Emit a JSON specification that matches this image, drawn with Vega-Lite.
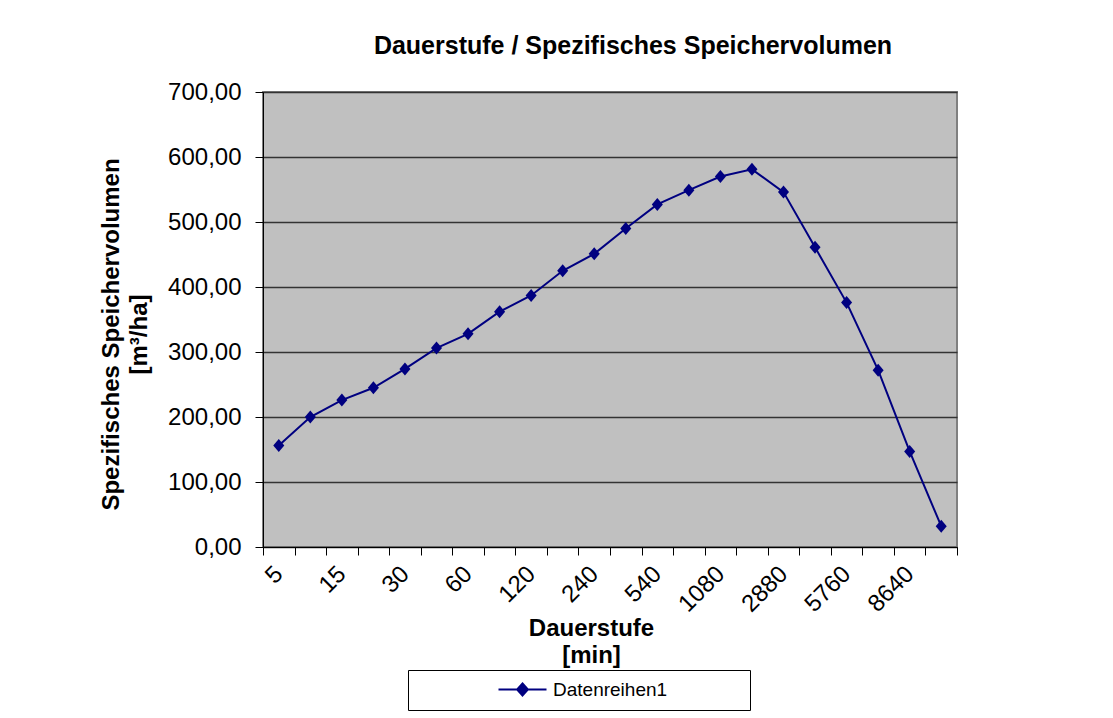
{
  "$schema": "https://vega.github.io/schema/vega-lite/v6.json",
  "width": 694,
  "height": 455,
  "autosize": {"type": "none"},
  "padding": {"left": 263, "top": 92, "right": 156, "bottom": 171},
  "background": "white",
  "config": {
    "font": "Liberation Sans",
    "view": {"fill": "#C0C0C0", "stroke": "#808080", "strokeWidth": 2}
  },
  "title": {
    "text": "Dauerstufe / Spezifisches Speichervolumen",
    "fontSize": 25,
    "fontWeight": "bold",
    "font": "Liberation Sans",
    "color": "black",
    "anchor": "middle",
    "frame": "group",
    "dx": 23,
    "offset": 21
  },
  "data": {
    "values": [
      {"dauer": 5, "volumen": 156, "series": "Datenreihen1"},
      {"dauer": 10, "volumen": 200, "series": "Datenreihen1"},
      {"dauer": 15, "volumen": 226, "series": "Datenreihen1"},
      {"dauer": 20, "volumen": 245, "series": "Datenreihen1"},
      {"dauer": 30, "volumen": 274, "series": "Datenreihen1"},
      {"dauer": 45, "volumen": 306, "series": "Datenreihen1"},
      {"dauer": 60, "volumen": 328, "series": "Datenreihen1"},
      {"dauer": 90, "volumen": 362, "series": "Datenreihen1"},
      {"dauer": 120, "volumen": 387, "series": "Datenreihen1"},
      {"dauer": 180, "volumen": 425, "series": "Datenreihen1"},
      {"dauer": 240, "volumen": 451, "series": "Datenreihen1"},
      {"dauer": 360, "volumen": 490, "series": "Datenreihen1"},
      {"dauer": 540, "volumen": 527, "series": "Datenreihen1"},
      {"dauer": 720, "volumen": 549, "series": "Datenreihen1"},
      {"dauer": 1080, "volumen": 570, "series": "Datenreihen1"},
      {"dauer": 1440, "volumen": 581, "series": "Datenreihen1"},
      {"dauer": 2880, "volumen": 546, "series": "Datenreihen1"},
      {"dauer": 4320, "volumen": 461, "series": "Datenreihen1"},
      {"dauer": 5760, "volumen": 376, "series": "Datenreihen1"},
      {"dauer": 7200, "volumen": 272, "series": "Datenreihen1"},
      {"dauer": 8640, "volumen": 147, "series": "Datenreihen1"},
      {"dauer": 10080, "volumen": 32, "series": "Datenreihen1"}
    ]
  },
  "encoding": {
    "x": {
      "field": "dauer",
      "type": "ordinal",
      "scale": {"type": "band", "paddingInner": 0, "paddingOuter": 0},
      "axis": {
        "title": ["Dauerstufe", "[min]"],
        "titleFontSize": 24,
        "titleFontWeight": "bold",
        "titleColor": "black",
        "titleLineHeight": 27,
        "titlePadding": 0,
        "titleX": 328,
        "labelFontSize": 24,
        "labelColor": "black",
        "labelAngle": -45,
        "labelAlign": "right",
        "labelBaseline": "middle",
        "labelPadding": 15,
        "labelOverlap": false,
        "labelExpr": "indexof([5,15,30,60,120,240,540,1080,2880,5760,8640], datum.value) >= 0 ? datum.label : ''",
        "tickBand": "extent",
        "tickSize": 8,
        "tickColor": "black",
        "domainColor": "black",
        "grid": false
      }
    },
    "y": {
      "field": "volumen",
      "type": "quantitative",
      "scale": {"domain": [0, 700], "nice": false},
      "axis": {
        "values": [0, 100, 200, 300, 400, 500, 600, 700],
        "format": ".2f",
        "labelExpr": "replace(datum.label, '.', ',')",
        "title": ["Spezifisches Speichervolumen", "[m³/ha]"],
        "titleFontSize": 24,
        "titleFontWeight": "bold",
        "titleColor": "black",
        "titleLineHeight": 28,
        "titlePadding": 16,
        "titleY": 242,
        "labelFontSize": 24,
        "labelColor": "black",
        "labelPadding": 14,
        "tickSize": 8,
        "tickColor": "black",
        "domainColor": "black",
        "grid": true,
        "gridColor": "#333333",
        "gridWidth": 1.5
      }
    },
    "color": {
      "field": "series",
      "type": "nominal",
      "scale": {"range": ["#000080"]},
      "legend": {
        "title": " ",
        "titleOrient": "right",
        "titlePadding": 73,
        "titleFontSize": 19,
        "orient": "none",
        "legendX": 145,
        "legendY": 578,
        "direction": "horizontal",
        "strokeColor": "black",
        "fillColor": "white",
        "padding": 10,
        "symbolType": "M-4,0L4,0M0,-1L0.9,0L0,1L-0.9,0Z",
        "symbolSize": 144,
        "symbolStrokeWidth": 2,
        "symbolFillColor": "#000080",
        "symbolStrokeColor": "#000080",
        "symbolOffset": 95,
        "labelFontSize": 19,
        "labelColor": "black",
        "labelOffset": 21
      }
    }
  },
  "layer": [
    {"mark": {"type": "line", "strokeWidth": 2}},
    {"mark": {"type": "point", "shape": "M-0.85,0L0,-1L0.85,0L0,1Z", "filled": true, "size": 169, "opacity": 1}}
  ]
}
